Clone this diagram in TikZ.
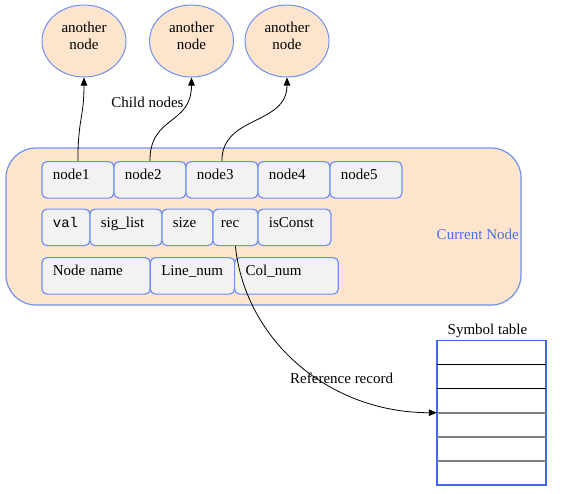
\documentclass[tikz,border=0pt]{standalone}
\usepackage{fontspec}
\setmainfont{Liberation Serif}
\setmonofont{Liberation Mono}
\usetikzlibrary{shapes.geometric,arrows.meta}
\definecolor{peach}{RGB}{253,228,204}
\definecolor{bord}{RGB}{112,144,240}
\definecolor{boxfill}{RGB}{242,242,242}
\definecolor{cnblue}{RGB}{74,111,232}
\definecolor{stblue}{RGB}{60,105,240}
\definecolor{gline}{RGB}{128,128,128}
\tikzset{
  every node/.style={font=\fontsize{15}{17}\selectfont},
  bubble/.style={ellipse,draw=bord,line width=1pt,fill=peach,minimum width=84pt,minimum height=72pt,inner sep=0pt},
  fieldbox/.style={draw=bord,line width=1.2pt,fill=boxfill,rounded corners=5pt,anchor=north west,
    inner xsep=11pt,inner ysep=0pt,text height=18pt,text depth=18.5pt,align=left},
  conn/.style={draw=black,line width=0.8pt},
  tip/.style={-{Triangle[length=8pt,width=6.5pt]}},
}
\newcommand{\fbx}[5]{\node[fieldbox,text width=#3pt-22pt] (#4) at (#1,#2) {#5};}
\begin{document}
\begin{tikzpicture}[x=1pt,y=-1pt]
\useasboundingbox (0,0) rectangle (583,493);
% big container
\draw[draw=bord,line width=1.2pt,fill=peach,rounded corners=30pt] (6,148) rectangle (521,305);
\node[text=cnblue,anchor=east,inner sep=0pt] (cur) at (519,234) {Current Node};
% ellipses
\node[bubble] (e1) at (84,41) {};
\node[bubble] (e2) at (191.5,41) {};
\node[bubble] (e3) at (287,41) {};
\node[align=center,inner sep=0pt] (e1t) at (84,36) {another\\node};
\node[align=center,inner sep=0pt] (e2t) at (191.5,36) {another\\node};
\node[align=center,inner sep=0pt] (e3t) at (287,36) {another\\node};
% row 1
\fbx{41.3}{161}{72}{n1}{node1}
\fbx{113.3}{161}{72}{n2}{node2}
\fbx{185.3}{161}{72}{n3}{node3}
\fbx{257.3}{161}{72}{n4}{node4}
\fbx{329.3}{161}{72}{n5}{node5}
% row 2
\fbx{41.3}{208.5}{48}{val}{\texttt{\fontsize{14}{16}\selectfont val}}
\fbx{89.3}{208.5}{72}{sig}{sig\_list}
\fbx{161.3}{208.5}{51}{size}{size}
\node[fieldbox,inner xsep=8pt,text width=29pt] (rec) at (212.3,208.5) {rec};
\fbx{257.3}{208.5}{73}{isc}{isConst}
% row 3
\fbx{41.3}{257}{108.4}{nn}{Node name}
\fbx{149.7}{257}{84.3}{ln}{Line\_num}
\fbx{234}{257}{103.7}{cn}{Col\_num}
% labels
\node[inner sep=0pt] (child) at (147.5,102) {Child nodes};
\node[inner sep=0pt,anchor=west] (refrec) at (290,378.5) {Reference record};
% symbol table
\node[draw=stblue,line width=1pt,minimum width=108.4pt,minimum height=144pt,inner sep=0pt] (st) at (491.5,412.7) {};
\node[inner sep=0pt] (sttitle) at (487.5,330.5) {Symbol table};
\draw[black,line width=0.8pt] ([yshift=-24pt]st.north west) -- ([yshift=-24pt]st.north east);
\draw[black,line width=0.8pt] ([yshift=-48pt]st.north west) -- ([yshift=-48pt]st.north east);
\draw[gline,line width=1.6pt] (st.west) -- (st.east);
\draw[gline,line width=1.6pt] ([yshift=24pt]st.south west) -- ([yshift=24pt]st.south east);
\draw[gline,line width=1.6pt] ([yshift=48pt]st.south west) -- ([yshift=48pt]st.south east);
\draw[stblue,line width=1pt] (st.north west) rectangle (st.south east);
% connectors
\draw[conn,tip] (n1.north) .. controls ([yshift=42pt]n1.north) and ([yshift=-40pt]e1.south) .. (e1.south);
\draw[conn,tip] (n2.north) .. controls ([yshift=46pt]n2.north) and ([yshift=-48pt]e2.south) .. (e2.south);
\draw[conn,tip] (n3.north) .. controls ([yshift=46pt]n3.north) and ([yshift=-48pt]e3.south) .. (e3.south);
\draw[conn,tip] (rec.south) .. controls ([xshift=10pt,yshift=-95pt]rec.south) and ([xshift=-107pt]st.west) .. (st.west);
\end{tikzpicture}
\end{document}
